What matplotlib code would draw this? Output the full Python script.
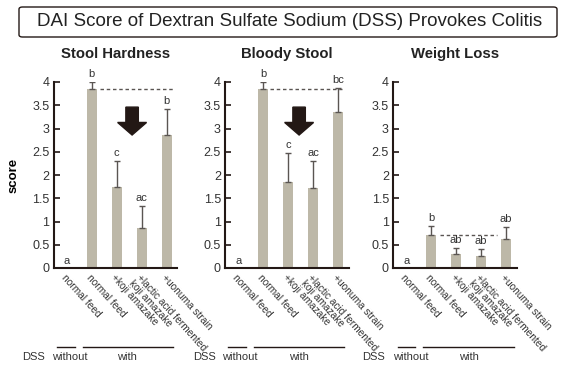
import matplotlib
matplotlib.use("Agg")
from matplotlib import pyplot as plt
from matplotlib.patches import FancyArrow, FancyBboxPatch

plt.rcParams['font.family'] = ['Liberation Sans', 'DejaVu Sans']

groups = ["normal feed", "normal feed", "+koji amazake",
          "+lactic acid fermented\nkoji amazake", "+uonuma strain"]

titles = ["Stool Hardness", "Bloody Stool", "Weight Loss"]

stool_hardness = [0, 3.85, 1.75, 0.87, 2.87]
stool_hardness_err = [0, 0.15, 0.55, 0.46, 0.55]
stool_hardness_sig = ["a", "b", "c", "ac", "b"]

bloody_stool = [0, 3.85, 1.85, 1.73, 3.35]
bloody_stool_err = [0, 0.15, 0.62, 0.57, 0.52]
bloody_stool_sig = ["a", "b", "c", "ac", "bc"]

weight_loss = [0, 0.72, 0.31, 0.25, 0.62]
weight_loss_err = [0, 0.19, 0.12, 0.16, 0.26]
weight_loss_sig = ["a", "b", "ab", "ab", "ab"]

values = [stool_hardness, bloody_stool, weight_loss]
errors = [stool_hardness_err, bloody_stool_err, weight_loss_err]
letters = [stool_hardness_sig, bloody_stool_sig, weight_loss_sig]

# dashed reference line (x start, x end) and arrow centre per panel
dash_span = [(1.35, 4.35), (1.28, 4.15), (1.36, 3.63)]
arrow_x = [2.62, 2.44, None]

bar_color = '#bdb8a8'
dark = '#231815'
err_color = '#5a5552'
txt = '#333333'

fig = plt.figure(figsize=(5.77, 3.67), dpi=100)

lefts = [53.5, 225, 393]
W, H = 577, 367
for i in range(3):
    ax = fig.add_axes([lefts[i] / W, 1 - 268 / H, 123.5 / W, 186 / H])
    x = list(range(5))
    ax.bar(x, values[i], width=0.4, color=bar_color, zorder=2)
    tops = [v + e for v, e in zip(values[i], errors[i])]
    ax.errorbar(x[1:], values[i][1:], yerr=[[0] * 4, errors[i][1:]], fmt='none',
                ecolor=err_color, elinewidth=1, capsize=2.5, capthick=1, zorder=3)
    for j in range(5):
        yy = tops[j] + 0.06 if j > 0 else 0.05
        ax.text(j, yy, letters[i][j], ha='center', va='bottom', fontsize=8,
                color=txt, clip_on=False)
    ref = values[i][1]
    ax.plot(dash_span[i], [ref, ref], linestyle=(0, (2.5, 2)), color=err_color,
            linewidth=1, zorder=1)
    if arrow_x[i] is not None:
        ax.add_patch(FancyArrow(arrow_x[i], 3.46, 0, -0.6, width=0.5, head_width=1.16,
                                head_length=0.27, length_includes_head=True,
                                color=dark, zorder=4))
    ax.set_xlim(-0.53, 4.42)
    ax.set_ylim(0, 4)
    ax.set_yticks([0, 0.5, 1, 1.5, 2, 2.5, 3, 3.5, 4])
    ax.set_yticklabels(['0', '0.5', '1', '1.5', '2', '2.5', '3', '3.5', '4'])
    ax.set_xticks(x)
    ax.set_xticklabels(groups, rotation=-48, ha='left', va='top',
                       rotation_mode='anchor', fontsize=7.3, linespacing=0.9,
                       color=txt)
    ax.tick_params(axis='x', length=0, pad=3)
    ax.tick_params(axis='y', direction='in', length=4, width=1.2, color=dark,
                   labelsize=9, labelcolor=txt, pad=3)
    for s in ['top', 'right']:
        ax.spines[s].set_visible(False)
    for s in ['left', 'bottom']:
        ax.spines[s].set_color(dark)
        ax.spines[s].set_linewidth(1.5)
    ax.set_title(titles[i], fontsize=10.7, fontweight='bold', pad=17, color='#222222')
    if i == 0:
        ax.set_ylabel('score', fontsize=9.5, fontweight='bold', labelpad=9)

# DSS rows under each panel
dss_x = [22, 193, 362]
without_line = [(57, 75), (228, 246), (398, 415)]
without_txt = [69.5, 240, 411]
with_line = [(83, 173), (254, 344), (423, 514)]
with_txt = [127, 299, 469]
for k in range(3):
    fig.text(dss_x[k] / W, 1 - 357 / H, 'DSS', fontsize=8, va='center', ha='left',
             color=txt)
    a, b = without_line[k]
    fig.add_artist(plt.Line2D([a / W, b / W], [1 - 347 / H] * 2, color=dark, linewidth=1))
    fig.text(without_txt[k] / W, 1 - 357 / H, 'without', fontsize=8, va='center',
             ha='center', color=txt)
    a, b = with_line[k]
    fig.add_artist(plt.Line2D([a / W, b / W], [1 - 347 / H] * 2, color=dark, linewidth=1))
    fig.text(with_txt[k] / W, 1 - 357 / H, 'with', fontsize=8, va='center',
             ha='center', color=txt)

# boxed main title
box = FancyBboxPatch((19 / W, 1 - 37 / H), 538 / W, 30 / H,
                     boxstyle='round,pad=0,rounding_size=0.006',
                     transform=fig.transFigure, facecolor='white',
                     edgecolor=dark, linewidth=1)
fig.add_artist(box)
fig.text(289.5 / W, 1 - 22 / H, 'DAI Score of Dextran Sulfate Sodium (DSS) Provokes Colitis',
         fontsize=13.5, ha='center', va='center', color='#222222')

fig.savefig('out.png', dpi=100)
